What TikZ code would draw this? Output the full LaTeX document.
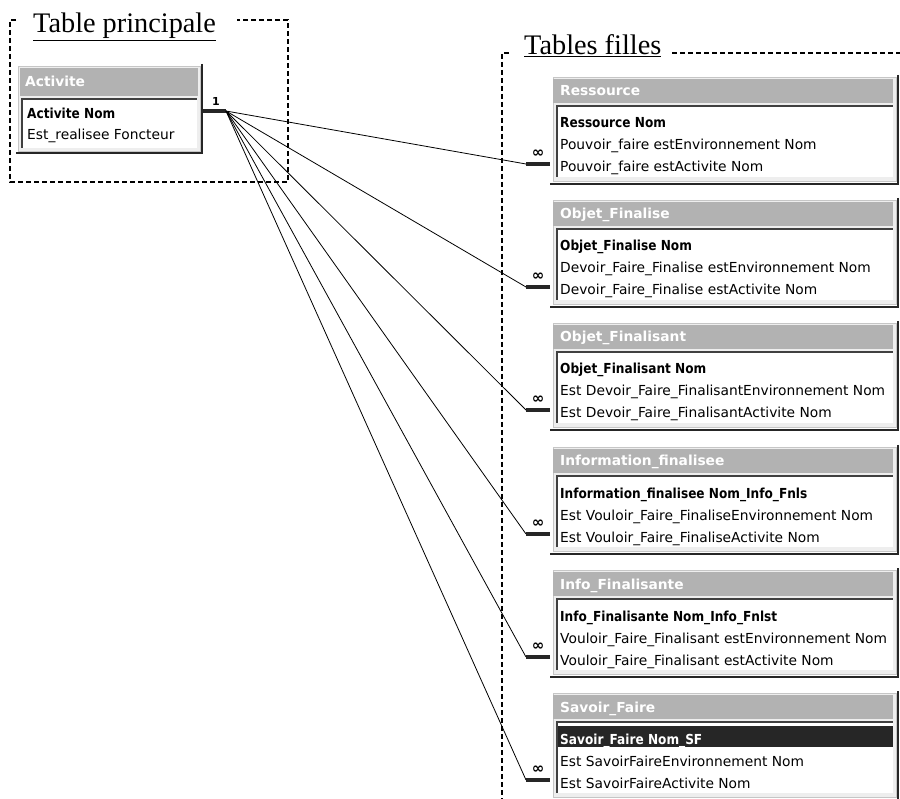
\documentclass[tikz,border=0pt]{standalone}
\usepackage{fontspec}
\setmainfont{Liberation Serif}
\newfontfamily\tah{DejaVu Sans}
\newfontfamily\tahc[FakeStretch=0.88]{DejaVu Sans}
\tikzset{
  win/.style={fill=gray!13, draw=gray!45, line width=0.6pt},
  hdr/.style={fill=gray!60},
  inbox/.style={fill=white},
  inedge/.style={draw=black!75, line width=1.3pt},
  shade/.style={draw=black!85, line width=2pt},
  conn/.style={draw=black, line width=0.8pt},
  bar/.style={draw=black!85, line width=3.2pt},
  frame/.style={draw=black, line width=1.2pt, dash pattern=on 5pt off 3pt},
  rowtxt/.style={anchor=base west, inner sep=0pt, font=\tah\fontsize{13.8}{16}\selectfont},
  boldtxt/.style={anchor=base west, inner sep=0pt, font=\tahc\bfseries\fontsize{13.8}{16}\selectfont},
  hdrtxt/.style={anchor=base west, inner sep=0pt, text=white, font=\tah\bfseries\fontsize{13.8}{16}\selectfont},
  inflbl/.style={inner sep=0pt, font=\tah\bfseries\fontsize{15}{16}\selectfont},
  ttl/.style={anchor=base west, inner sep=0pt, font=\fontsize{28.3}{32}\selectfont},
}
\newcommand\ctab[7]{%
  \fill[win] (553,#2-2) rectangle (896,#2+102);
  \fill[hdr] (553,#2) rectangle (893,#2+24);
  \fill[inbox] (557,#2+27) rectangle (893,#2+98);
  \draw[inedge] (557,#2+98) -- (557,#2+27) -- (893,#2+27);
  \draw[shade] (898,#2-4) -- (898,#2+105) -- (550,#2+105);
  \ifnum#7=1
    \fill[black!85] (558,#2+31) rectangle (893,#2+52);
    \node[boldtxt, text=white] (#1-r1) at (560,#2+49) {#4};
  \else
    \node[boldtxt] (#1-r1) at (560,#2+49) {#4};
  \fi
  \node[hdrtxt] (#1-hdr) at (560,#2+17) {#3};
  \node[rowtxt] (#1-r2) at (560,#2+71) {#5};
  \node[rowtxt] (#1-r3) at (560,#2+93) {#6};
  \node[inflbl] (#1-inf) at (538,#2+75) {∞};
  \coordinate (#1-end) at (526,#2+85);
  \coordinate (#1-bar) at (550,#2+85);
  \draw[bar] (#1-end) -- (#1-bar);
  \draw[conn] (hub) -- (#1-end);
}
\begin{document}
\begin{tikzpicture}[x=1pt,y=-1pt]
\useasboundingbox (0,0) rectangle (900,799);
\fill[white] (0,0) rectangle (900,799);
% left dashed frame and title
\draw[frame] (16,20) -- (10,20) -- (10,182) -- (288,182) -- (288,20) -- (237,20);
\node[ttl] (ttl-main) at (33,33) {\underline{Table principale}};
% right dashed frame and title
\draw[frame] (509,53) -- (502,53) -- (502,799);
\draw[frame] (672,53) -- (900,53);
\node[ttl] (ttl-filles) at (524,55) {\underline{Tables filles}};
% Activite table
\fill[win] (18,66) rectangle (200,151);
\fill[hdr] (20,68) rectangle (198,96);
\fill[inbox] (22,99) rectangle (197,148);
\draw[inedge] (22,148) -- (22,99) -- (197,99);
\draw[shade] (202,64) -- (202,153) -- (16,153);
\node[hdrtxt] (act-hdr) at (25,87) {Activite};
\node[boldtxt] (act-r1) at (27,119) {Activite Nom};
\node[rowtxt] (act-r2) at (27,140) {Est\_realisee Foncteur};
\coordinate (act-bar) at (203,111);
\coordinate (hub) at (226,111);
\draw[bar] (act-bar) -- (hub);
\node[inner sep=0pt, font=\tah\bfseries\fontsize{11}{12}\selectfont] (one) at (216,101) {1};
% child tables
\ctab{res}{79}{Ressource}{Ressource Nom}{Pouvoir\_faire estEnvironnement Nom}{Pouvoir\_faire estActivite Nom}{0}
\ctab{ofe}{202}{Objet\_Finalise}{Objet\_Finalise Nom}{Devoir\_Faire\_Finalise estEnvironnement Nom}{Devoir\_Faire\_Finalise estActivite Nom}{0}
\ctab{ofa}{325}{Objet\_Finalisant}{Objet\_Finalisant Nom}{Est Devoir\_Faire\_FinalisantEnvironnement Nom}{Est Devoir\_Faire\_FinalisantActivite Nom}{0}
\ctab{inf}{449}{Information\_finalisee}{Information\_finalisee Nom\_Info\_Fnls}{Est Vouloir\_Faire\_FinaliseEnvironnement Nom}{Est Vouloir\_Faire\_FinaliseActivite Nom}{0}
\ctab{ifa}{572}{Info\_Finalisante}{Info\_Finalisante Nom\_Info\_Fnlst}{Vouloir\_Faire\_Finalisant estEnvironnement Nom}{Vouloir\_Faire\_Finalisant estActivite Nom}{0}
\ctab{sf}{695}{Savoir\_Faire}{Savoir\_Faire Nom\_SF}{Est SavoirFaireEnvironnement Nom}{Est SavoirFaireActivite Nom}{1}
\end{tikzpicture}
\end{document}
